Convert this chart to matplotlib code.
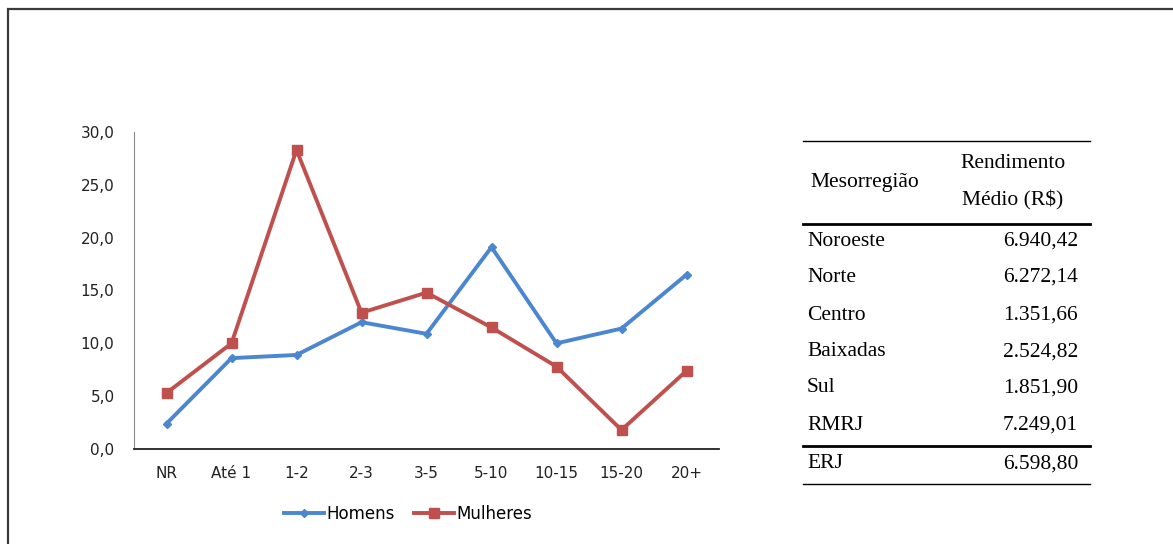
import matplotlib.pyplot as plt
from matplotlib.lines import Line2D
from matplotlib.patches import Rectangle
from matplotlib.ticker import FuncFormatter

# faixas de rendimento (salarios minimos)
faixas = ['NR', 'Até 1', '1-2', '2-3', '3-5', '5-10', '10-15', '15-20', '20+']
homens = [2.4, 8.6, 8.9, 12.0, 10.9, 19.1, 10.0, 11.4, 16.5]
mulheres = [5.3, 10.0, 28.3, 12.9, 14.8, 11.5, 7.8, 1.8, 7.4]

# tabela de rendimento medio por mesorregiao
mesorregioes = ['Noroeste', 'Norte', 'Centro', 'Baixadas', 'Sul', 'RMRJ']
rendimentos = ['6.940,42', '6.272,14', '1.351,66', '2.524,82', '1.851,90', '7.249,01']
total_nome = 'ERJ'
total_valor = '6.598,80'

W, H = 1173, 544
fig = plt.figure(figsize=(W / 100, H / 100), dpi=100)

def fx(px):
    return px / W

def fy(py):
    return 1 - py / H

# moldura
fig.add_artist(Rectangle((fx(8), fy(H + 20)), 1.2, fy(9) - fy(H + 20),
                         transform=fig.transFigure, fill=False,
                         edgecolor='#3a3a3a', linewidth=1.6))

ax = fig.add_axes([fx(134), fy(449), fx(719) - fx(134), fy(132) - fy(449)])
x = range(len(faixas))
ax.plot(x, homens, color='#4a87d0', linewidth=2.8, marker='D', markersize=4,
        label='Homens')
ax.plot(x, mulheres, color='#c0504d', linewidth=2.8, marker='s', markersize=7,
        label='Mulheres')

ax.set_xlim(-0.5, len(faixas) - 0.5)
ax.set_ylim(0, 30)
ax.set_yticks(range(0, 31, 5))
ax.yaxis.set_major_formatter(FuncFormatter(lambda v, p: f'{v:.1f}'.replace('.', ',')))
ax.set_xticks(list(x))
ax.set_xticklabels(faixas)
ax.tick_params(axis='both', length=0, labelsize=11, colors='#222222')
ax.tick_params(axis='y', pad=14)
ax.tick_params(axis='x', pad=12)
for s in ['top', 'right']:
    ax.spines[s].set_visible(False)
ax.spines['left'].set_color('#8c8c8c')
ax.spines['bottom'].set_color('#222222')
ax.spines['bottom'].set_linewidth(1.3)

fig.legend(loc='center', bbox_to_anchor=(fx(408), fy(514)), ncol=2, frameon=False,
           fontsize=12, handlelength=2.4, handletextpad=0.1, columnspacing=1.2)

# tabela
serif = 'Liberation Serif'
fs = 15.5
x0, x1 = 803, 1090

def hline(py, lw):
    fig.add_artist(Line2D([fx(x0), fx(x1)], [fy(py), fy(py)],
                          transform=fig.transFigure, color='black', linewidth=lw))

hline(141, 1.0)
hline(224, 2.0)
hline(446, 2.0)
hline(484, 1.0)

fig.text(fx(810), fy(183), 'Mesorregião', family=serif, fontsize=fs, va='center', ha='left')
fig.text(fx(1013), fy(164), 'Rendimento', family=serif, fontsize=fs, va='center', ha='center')
fig.text(fx(1013), fy(200), 'Médio (R$)', family=serif, fontsize=fs, va='center', ha='center')

row_y = [241, 277, 315, 352, 388, 425]
for nome, valor, py in zip(mesorregioes, rendimentos, row_y):
    fig.text(fx(807), fy(py), nome, family=serif, fontsize=fs, va='center', ha='left')
    fig.text(fx(1078), fy(py), valor, family=serif, fontsize=fs, va='center', ha='right')
fig.text(fx(807), fy(464), total_nome, family=serif, fontsize=fs, va='center', ha='left')
fig.text(fx(1078), fy(464), total_valor, family=serif, fontsize=fs, va='center', ha='right')

fig.savefig('out.png', dpi=100)
